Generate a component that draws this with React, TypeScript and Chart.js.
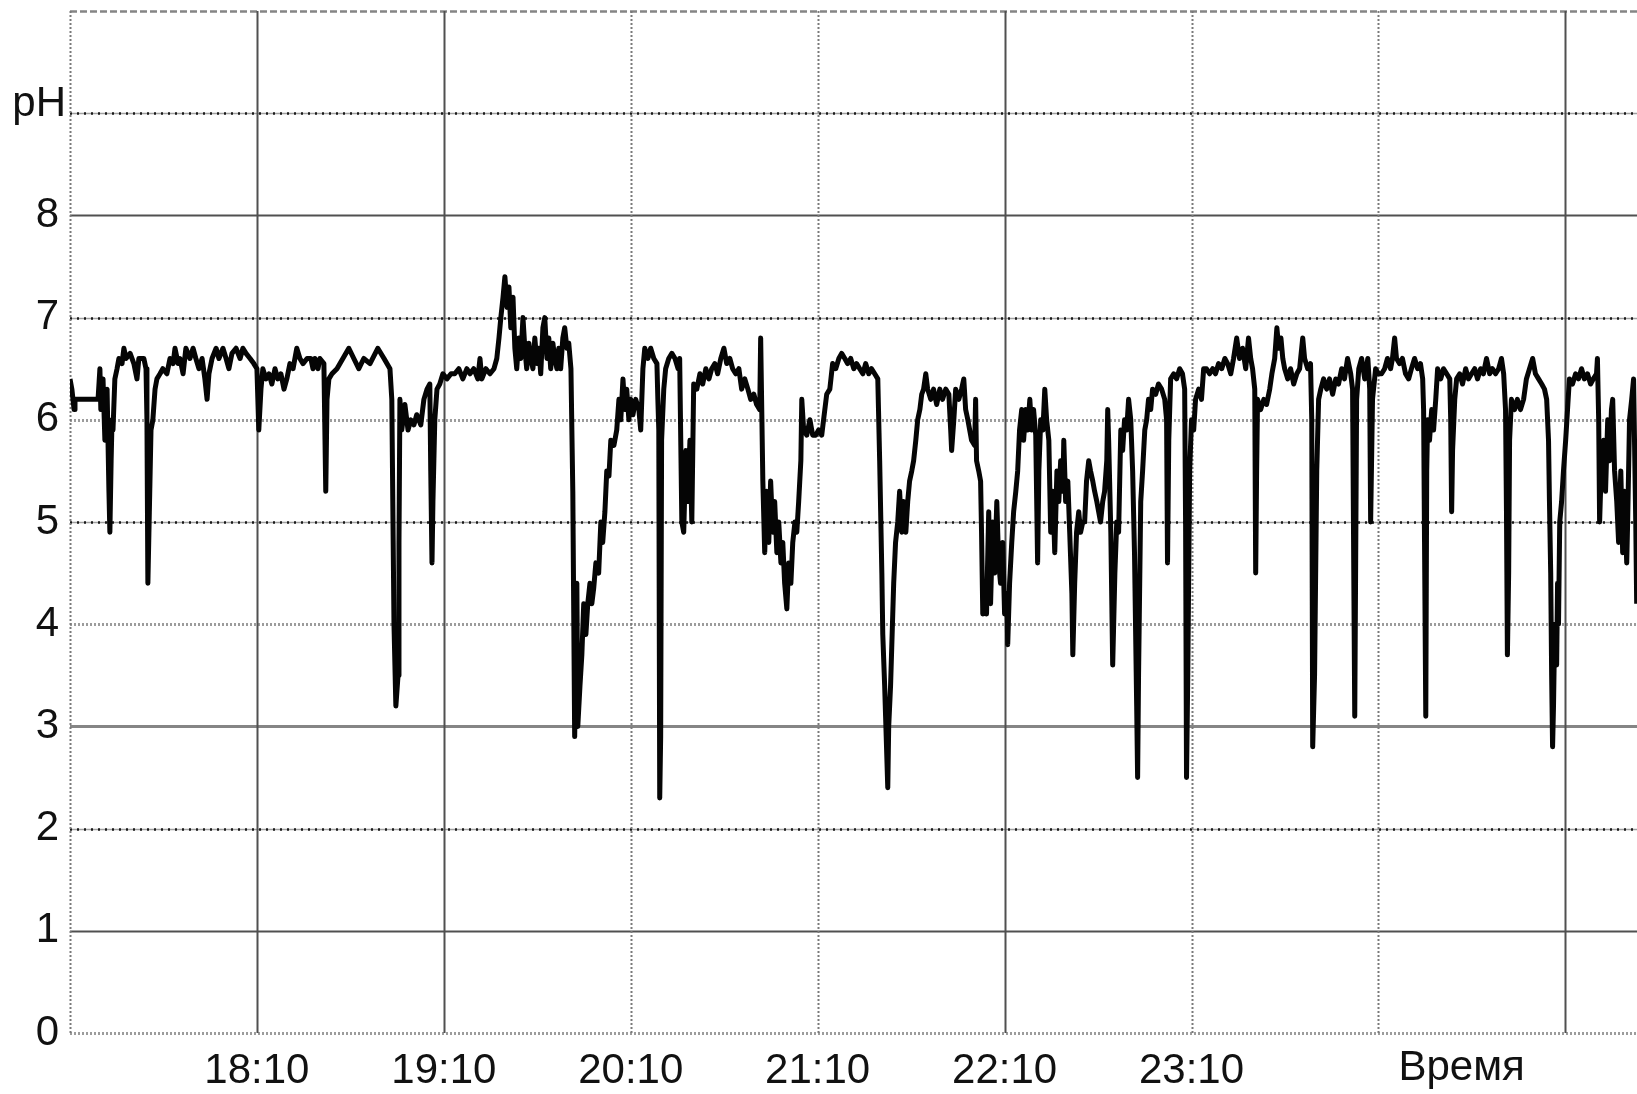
import React, { useEffect, useRef } from "react";
import { Chart, registerables } from "chart.js";

Chart.register(...registerables);

// pH readings: [minutes after 17:10, pH]
const hour17: [number, number][] = [
  [0.0, 6.4], [0.6, 6.3], [1.3, 6.1], [1.6, 6.2], [9.0, 6.2], [9.6, 6.5], [9.9, 6.1], [10.6, 6.4], [11.2, 5.8],
  [11.9, 6.3], [12.5, 5.3], [12.8, 4.9], [13.2, 5.6], [13.5, 6.0], [13.8, 5.9], [14.4, 6.4], [15.1, 6.5],
  [15.7, 6.6], [16.7, 6.55], [17.3, 6.7], [18.0, 6.6], [19.3, 6.65], [20.5, 6.55], [21.5, 6.4], [22.1, 6.6],
  [23.7, 6.6], [24.4, 6.5], [24.7, 6.0], [25.0, 4.4], [25.4, 5.0], [26.0, 5.9], [26.6, 6.0], [27.3, 6.3],
  [27.9, 6.4], [28.9, 6.45], [29.8, 6.5], [31.1, 6.45], [32.1, 6.6], [33.1, 6.55], [33.7, 6.7], [34.7, 6.55],
  [35.3, 6.6], [36.3, 6.45], [37.2, 6.7], [38.5, 6.6], [39.5, 6.7], [40.4, 6.6], [41.4, 6.5], [42.4, 6.6],
  [43.3, 6.4], [44.0, 6.2], [44.6, 6.45], [45.6, 6.6], [46.9, 6.7], [47.8, 6.6], [49.1, 6.7], [50.1, 6.6],
  [51.0, 6.5], [52.0, 6.65], [53.3, 6.7], [54.6, 6.6], [55.5, 6.7], [56.5, 6.65], [57.8, 6.6], [59.0, 6.55],
];

const hour18: [number, number][] = [
  [60.0, 6.5], [60.6, 5.9], [61.3, 6.3], [61.9, 6.5], [62.9, 6.4], [63.9, 6.45], [64.8, 6.35], [65.8, 6.5],
  [66.7, 6.4], [67.7, 6.45], [68.7, 6.3], [69.6, 6.4], [70.6, 6.55], [71.6, 6.5], [72.8, 6.7], [73.8, 6.6],
  [74.8, 6.55], [76.1, 6.6], [77.3, 6.6], [78.0, 6.5], [78.6, 6.6], [79.6, 6.5], [80.2, 6.6], [81.5, 6.55],
  [82.1, 5.3], [82.5, 6.2], [83.1, 6.4], [84.1, 6.45], [85.7, 6.5], [89.5, 6.7], [91.1, 6.6], [92.7, 6.5],
  [94.3, 6.6], [96.3, 6.55], [98.8, 6.7], [100.8, 6.6], [102.7, 6.5], [103.3, 6.2], [104.0, 4.0], [104.6, 3.2],
  [105.3, 3.5], [105.6, 4.8], [105.9, 6.2], [106.5, 5.9], [107.5, 6.15], [108.5, 5.9], [109.4, 6.0],
  [110.4, 5.95], [111.3, 6.05], [112.6, 5.95], [113.6, 6.2], [114.6, 6.3], [115.5, 6.35], [115.8, 5.5],
  [116.2, 4.6], [116.5, 5.2], [117.1, 6.0], [117.8, 6.3], [118.7, 6.35], [119.7, 6.45],
];

const hour19: [number, number][] = [
  [121.0, 6.4], [122.3, 6.45], [123.5, 6.45], [124.8, 6.5], [126.1, 6.4], [127.4, 6.5], [128.4, 6.45],
  [129.6, 6.5], [130.9, 6.4], [131.6, 6.6], [132.2, 6.4], [133.5, 6.5], [134.8, 6.45], [136.1, 6.5],
  [137.0, 6.6], [137.7, 6.8], [138.3, 7.0], [139.0, 7.2], [139.6, 7.4], [140.3, 7.1], [140.9, 7.3],
  [141.5, 6.9], [142.2, 7.2], [142.8, 6.7], [143.4, 6.5], [144.1, 6.8], [144.7, 6.6], [145.4, 7.0],
  [146.0, 6.7], [146.6, 6.5], [147.3, 6.75], [147.9, 6.6], [148.6, 6.5], [149.2, 6.8], [149.9, 6.55],
  [150.5, 6.7], [151.1, 6.45], [151.8, 6.9], [152.4, 7.0], [153.1, 6.6], [153.7, 6.8], [154.3, 6.5],
  [155.0, 6.75], [155.6, 6.6], [156.3, 6.5], [156.9, 6.7], [157.5, 6.5], [158.2, 6.8], [158.8, 6.9],
  [159.5, 6.7], [160.1, 6.75], [160.8, 6.5], [161.4, 5.3], [162.0, 2.9], [162.7, 4.4], [163.0, 3.0],
  [163.7, 3.4], [164.3, 3.7], [164.9, 4.2], [165.6, 3.9], [166.2, 4.2], [166.9, 4.4], [167.5, 4.2],
  [168.1, 4.35], [168.8, 4.6], [169.7, 4.5], [170.4, 5.0], [171.0, 4.8], [171.7, 5.1], [172.3, 5.5],
  [173.0, 5.45], [173.6, 5.8], [174.6, 5.75], [175.5, 5.9], [176.2, 6.2], [176.8, 6.0], [177.5, 6.4],
  [178.1, 6.1], [178.7, 6.3], [179.4, 6.0],
];

const hour20: [number, number][] = [
  [180.0, 6.2], [180.7, 6.05], [181.6, 6.2], [182.6, 6.1], [183.2, 5.9], [183.9, 6.5], [184.5, 6.7],
  [185.5, 6.6], [186.4, 6.7], [187.4, 6.6], [188.4, 6.55], [188.7, 6.2], [189.0, 5.9], [189.3, 2.3],
  [189.6, 2.9], [189.9, 5.8], [190.6, 6.3], [191.2, 6.5], [192.2, 6.6], [193.2, 6.65], [194.2, 6.6],
  [195.2, 6.5], [195.7, 6.6], [196.4, 5.0], [197.0, 4.9], [197.7, 5.7], [198.3, 5.2], [199.0, 5.8],
  [199.6, 5.0], [200.2, 6.35], [201.2, 6.3], [202.2, 6.45], [203.1, 6.35], [204.1, 6.5], [205.1, 6.4],
  [206.0, 6.5], [207.0, 6.55], [207.9, 6.45], [208.9, 6.6], [209.9, 6.7], [210.8, 6.55], [211.8, 6.6],
  [212.7, 6.5], [213.7, 6.45], [214.7, 6.5], [215.6, 6.3], [216.6, 6.4], [217.6, 6.3], [218.5, 6.2],
  [219.5, 6.25], [220.4, 6.15], [221.4, 6.1], [221.7, 6.8], [222.0, 6.2], [222.4, 5.4], [223.0, 4.7],
  [223.6, 5.3], [224.3, 4.8], [224.9, 5.4], [225.6, 4.9], [226.2, 5.2], [226.9, 4.7], [227.5, 5.0],
  [228.2, 4.6], [228.8, 4.8], [229.4, 4.4], [230.1, 4.15], [230.7, 4.6], [231.4, 4.4], [232.0, 4.8],
  [232.7, 5.0], [233.3, 4.9], [233.9, 5.2], [234.6, 5.6], [234.9, 6.2], [235.5, 5.9], [236.5, 5.85],
  [237.5, 6.0], [238.4, 5.85], [239.4, 5.85],
];

const hour21: [number, number][] = [
  [240.3, 5.9], [241.3, 5.85], [241.9, 6.0], [242.9, 6.25], [243.9, 6.3], [244.8, 6.55], [245.8, 6.5],
  [246.8, 6.6], [247.7, 6.65], [248.7, 6.6], [249.6, 6.55], [250.6, 6.6], [251.6, 6.5], [252.5, 6.55],
  [253.5, 6.5], [254.5, 6.45], [255.4, 6.55], [256.4, 6.45], [257.3, 6.5], [258.3, 6.45], [259.3, 6.4],
  [259.9, 5.6], [260.6, 4.5], [260.9, 3.9], [261.5, 3.4], [261.8, 3.1], [262.5, 2.4], [262.8, 3.0],
  [263.4, 3.4], [264.1, 4.1], [264.4, 4.4], [265.0, 4.8], [265.7, 5.0], [266.3, 5.3], [267.0, 4.9],
  [267.6, 5.2], [268.3, 4.9], [268.9, 5.2], [269.5, 5.4], [270.2, 5.5], [270.8, 5.6], [271.5, 5.8],
  [272.1, 6.0], [272.8, 6.1], [273.4, 6.25], [274.0, 6.3], [274.7, 6.45], [275.3, 6.3], [276.3, 6.2],
  [277.2, 6.3], [278.2, 6.15], [279.2, 6.3], [280.1, 6.2], [281.1, 6.3], [282.1, 6.25], [282.7, 5.9],
  [283.0, 5.7], [283.7, 6.0], [284.3, 6.3], [285.3, 6.2], [286.2, 6.3], [286.9, 6.4], [287.5, 6.1],
  [288.2, 6.0], [288.8, 5.9], [289.4, 5.8], [290.4, 5.75], [290.7, 6.2], [291.0, 5.6], [291.7, 5.5],
  [292.3, 5.4], [292.6, 4.9], [293.0, 4.1], [293.6, 4.4], [294.2, 4.1], [294.9, 5.1], [295.5, 4.2],
  [296.2, 5.0], [296.8, 4.5], [297.5, 5.2], [298.1, 4.6], [298.7, 4.4], [299.4, 4.8],
];

const hour22: [number, number][] = [
  [300.0, 4.1], [300.7, 4.3], [301.0, 3.8], [301.6, 4.4], [302.3, 4.8], [302.9, 5.1], [303.6, 5.3],
  [304.2, 5.5], [304.8, 5.9], [305.5, 6.1], [306.1, 5.8], [306.8, 6.1], [307.4, 5.9], [308.1, 6.2],
  [308.7, 5.9], [309.3, 6.1], [310.0, 5.85], [310.6, 4.6], [311.0, 5.5], [311.6, 6.0], [312.3, 5.9],
  [312.9, 6.3], [313.5, 6.0], [314.2, 5.8], [314.8, 4.9], [315.5, 5.3], [316.1, 4.7], [316.8, 5.5],
  [317.4, 5.2], [318.0, 5.6], [318.7, 5.3], [319.0, 5.8], [319.6, 5.2], [320.3, 5.4], [320.9, 4.9],
  [321.6, 4.3], [321.9, 3.7], [322.5, 4.4], [323.1, 4.9], [323.8, 5.1], [324.4, 4.9], [325.1, 5.0],
  [325.7, 5.0], [326.3, 5.4], [327.0, 5.6], [327.6, 5.5], [328.3, 5.4], [328.9, 5.3], [329.6, 5.2],
  [330.2, 5.1], [330.8, 5.0], [331.5, 5.2], [332.1, 5.3], [332.8, 5.6], [333.1, 6.1], [333.4, 5.8],
  [334.1, 4.9], [334.7, 3.6], [335.4, 4.5], [336.0, 5.0], [336.6, 4.9], [337.3, 5.9], [337.9, 5.7],
  [338.5, 6.0], [339.2, 5.9], [339.8, 6.2], [340.5, 6.0], [341.1, 5.5], [341.7, 4.7], [342.4, 3.2],
  [342.7, 2.5], [343.0, 3.5], [343.7, 5.2], [344.3, 5.5], [345.0, 5.9], [345.6, 6.0], [346.2, 6.2],
  [346.9, 6.1], [347.5, 6.3], [348.5, 6.25], [349.4, 6.35], [350.4, 6.3], [351.4, 6.2], [352.0, 6.0],
  [352.3, 4.6], [352.7, 5.8], [353.3, 6.4], [354.3, 6.45], [355.2, 6.4], [356.2, 6.5], [357.1, 6.45],
  [357.8, 6.3], [358.1, 5.0], [358.4, 2.5], [358.8, 3.5], [359.4, 5.5],
];

const hour23: [number, number][] = [
  [360.0, 6.0], [360.7, 5.9], [361.3, 6.2], [362.3, 6.3], [363.2, 6.2], [363.9, 6.5], [364.8, 6.5],
  [365.8, 6.45], [366.8, 6.5], [367.7, 6.45], [368.7, 6.55], [369.7, 6.5], [370.7, 6.6], [371.6, 6.55],
  [372.6, 6.45], [373.5, 6.6], [374.5, 6.8], [375.4, 6.6], [376.4, 6.7], [377.4, 6.5], [378.3, 6.8],
  [379.0, 6.6], [379.6, 6.5], [380.3, 6.3], [380.6, 4.5], [380.9, 5.5], [381.2, 6.2], [382.2, 6.1],
  [383.2, 6.2], [384.1, 6.15], [385.1, 6.3], [385.8, 6.45], [386.7, 6.6], [387.4, 6.9], [388.0, 6.7],
  [388.7, 6.8], [389.3, 6.6], [389.9, 6.5], [390.9, 6.4], [391.8, 6.5], [392.8, 6.35], [393.8, 6.45],
  [394.7, 6.5], [395.7, 6.8], [396.3, 6.6], [397.3, 6.5], [398.2, 6.55], [398.6, 6.0], [398.9, 2.8],
  [399.5, 3.5], [400.2, 5.5], [400.8, 6.2], [401.5, 6.3], [402.4, 6.4], [403.4, 6.3], [404.3, 6.4],
  [405.3, 6.25], [406.3, 6.4], [407.2, 6.35], [408.2, 6.5], [409.1, 6.4], [410.1, 6.6], [411.1, 6.45],
  [411.7, 6.3], [412.4, 3.1], [413.0, 6.2], [413.7, 6.5], [414.6, 6.6], [415.6, 6.4], [416.6, 6.6],
  [417.2, 6.3], [417.5, 5.0], [418.1, 6.2], [419.1, 6.5],
];

const hour00: [number, number][] = [
  [420.0, 6.45], [421.0, 6.45], [422.0, 6.5], [422.9, 6.6], [423.9, 6.5], [424.5, 6.6], [425.2, 6.8],
  [425.8, 6.6], [426.8, 6.55], [427.7, 6.6], [428.7, 6.45], [429.7, 6.4], [430.6, 6.5], [431.6, 6.6],
  [432.6, 6.5], [433.5, 6.55], [434.2, 6.4], [434.5, 6.1], [434.8, 4.8], [435.2, 3.1], [435.5, 5.5],
  [435.8, 6.0], [436.4, 5.8], [437.1, 6.1], [437.7, 5.9], [438.4, 6.2], [439.0, 6.5], [440.0, 6.4],
  [440.9, 6.5], [441.9, 6.45], [442.9, 6.4], [443.2, 6.0], [443.5, 5.1], [443.8, 5.7], [444.5, 6.2],
  [445.1, 6.4], [446.1, 6.45], [447.0, 6.35], [448.0, 6.5], [448.9, 6.4], [449.9, 6.45], [450.9, 6.5],
  [451.8, 6.4], [452.8, 6.5], [453.7, 6.45], [454.7, 6.6], [455.7, 6.45], [456.6, 6.5], [457.6, 6.45],
  [458.6, 6.5], [459.5, 6.6], [460.2, 6.45], [460.8, 6.1], [461.1, 5.1], [461.4, 3.7], [461.8, 4.5],
  [462.1, 5.8], [462.7, 6.2], [463.7, 6.1], [464.6, 6.2], [465.6, 6.1], [466.6, 6.2], [467.5, 6.4],
  [468.5, 6.5], [469.5, 6.6], [470.4, 6.45], [471.4, 6.4], [472.4, 6.35], [473.3, 6.3], [474.0, 6.2],
  [474.6, 5.8], [474.9, 5.2], [475.3, 4.5], [475.6, 3.5], [475.9, 2.8], [476.2, 3.2], [476.6, 4.0],
  [477.2, 3.6], [477.5, 4.4], [477.8, 4.0], [478.2, 5.0], [478.8, 5.2], [479.4, 5.5], [480.1, 5.8],
  [480.7, 6.1], [481.3, 6.4], [482.3, 6.35], [483.3, 6.45], [484.2, 6.4], [485.2, 6.5], [486.1, 6.4],
  [487.1, 6.45], [488.1, 6.35], [489.0, 6.4], [490.0, 6.45], [490.3, 6.6], [490.7, 6.0], [491.0, 5.0],
  [491.6, 5.6], [492.3, 5.8], [492.9, 5.3], [493.6, 6.0], [494.2, 5.6], [494.8, 6.1], [495.2, 6.2],
  [495.8, 5.5], [496.5, 5.2], [497.1, 4.8], [497.8, 5.5], [498.4, 4.7], [499.0, 5.3], [499.7, 4.6],
  [500.0, 5.0], [500.6, 6.0], [501.3, 6.2], [501.9, 6.4], [502.6, 5.0], [502.9, 4.2],
];

const readings = [...hour17, ...hour18, ...hour19, ...hour20, ...hour21, ...hour22, ...hour23, ...hour00];

// Axis definitions
const xMin = 0;
const xMax = 503;
const xTickValues = [60, 120, 180, 240, 300, 360];
const xTickTexts = ["18:10", "19:10", "20:10", "21:10", "22:10", "23:10"];
const xGridValues = [0, 60, 120, 180, 240, 300, 360, 420, 480];
const xGridKinds = ["vdotted", "solid", "solid", "vdotted", "vdotted", "solid", "vdotted", "vdotted", "solid"];
const yGridValues = [0, 1, 2, 3, 4, 5, 6, 7, 8, 9, 10];
const yGridKinds = ["wavy", "solid", "dotted", "solidLight", "wavy", "dotted", "wavy", "dotted", "solid", "dotted", "dashed"];
const yLabelMax = 8;
const yAxisName = "pH";
const xAxisName = "Время";
const xAxisNameAt = 446.7;

const FONT = "'Liberation Sans', Arial, sans-serif";

type Stroke = { color: string; width: number; dash: number[] };
const strokeStyles: Record<string, Stroke[]> = {
  solid: [{ color: "#505050", width: 2, dash: [] }],
  solidLight: [{ color: "#858585", width: 3, dash: [] }],
  dotted: [
    { color: "#a0a0a0", width: 1.5, dash: [] },
    { color: "#1a1a1a", width: 2.5, dash: [2, 5] },
  ],
  wavy: [{ color: "#9c9c9c", width: 3, dash: [2, 2] }],
  dashed: [{ color: "#858585", width: 2.5, dash: [7, 3] }],
  vdotted: [{ color: "#7a7a7a", width: 2, dash: [2, 2] }],
};

const gridPlugin = {
  id: "phGrid",
  beforeDraw(chart: any) {
    const { ctx, width, height } = chart;
    ctx.save();
    ctx.fillStyle = "#ffffff";
    ctx.fillRect(0, 0, width, height);
    ctx.restore();
  },
  beforeDatasetsDraw(chart: any) {
    const { ctx, chartArea } = chart;
    const xs = chart.scales.x;
    const ys = chart.scales.y;
    const stroke = (x1: number, y1: number, x2: number, y2: number, kind: string) => {
      for (const s of strokeStyles[kind]) {
        ctx.save();
        ctx.strokeStyle = s.color;
        ctx.lineWidth = s.width;
        ctx.setLineDash(s.dash);
        ctx.beginPath();
        ctx.moveTo(x1, y1);
        ctx.lineTo(x2, y2);
        ctx.stroke();
        ctx.restore();
      }
    };
    yGridValues.forEach((v, i) => {
      const y = Math.round(ys.getPixelForValue(v)) + 0.5;
      stroke(chartArea.left, y, chartArea.right, y, yGridKinds[i]);
    });
    xGridValues.forEach((v, i) => {
      const x = Math.round(xs.getPixelForValue(v)) + 0.5;
      stroke(x, chartArea.top, x, chartArea.bottom, xGridKinds[i]);
    });
  },
  afterDraw(chart: any) {
    const { ctx, chartArea } = chart;
    const xs = chart.scales.x;
    const ys = chart.scales.y;
    ctx.save();
    ctx.fillStyle = "#111111";
    ctx.font = `42px ${FONT}`;
    ctx.textAlign = "right";
    ctx.textBaseline = "alphabetic";
    ctx.fillText(yAxisName, chartArea.left - 4, ys.getPixelForValue(9) + 3);
    ctx.textAlign = "center";
    ctx.fillText(xAxisName, xs.getPixelForValue(xAxisNameAt), chartArea.bottom + 47);
    ctx.restore();
  },
};

export default function App() {
  const ref = useRef<HTMLCanvasElement | null>(null);

  useEffect(() => {
    if (!ref.current) return;
    const chart = new Chart(ref.current, {
      type: "line",
      data: {
        datasets: [
          {
            data: readings.map(([x, y]) => ({ x, y })),
            borderColor: "#050505",
            borderWidth: 5,
            pointRadius: 0,
            tension: 0,
            fill: false,
            borderJoinStyle: "round",
          },
        ],
      },
      options: {
        animation: false,
        responsive: false,
        devicePixelRatio: 1,
        layout: { padding: { top: 11, right: 0, bottom: 0, left: 0 } },
        plugins: { legend: { display: false }, tooltip: { enabled: false } },
        scales: {
          x: {
            type: "linear",
            min: xMin,
            max: xMax,
            grid: { display: false, drawTicks: false },
            border: { display: false },
            ticks: {
              stepSize: 60,
              autoSkip: false,
              maxRotation: 0,
              padding: 13,
              color: "#111111",
              font: { family: FONT, size: 42 },
              callback: (value: any) => {
                const i = xTickValues.indexOf(Number(value));
                return i >= 0 ? xTickTexts[i] : "";
              },
            },
            afterFit: (s: any) => {
              s.height = 61;
              s.paddingLeft = 0;
              s.paddingRight = 0;
            },
          },
          y: {
            min: 0,
            max: 10,
            grid: { display: false, drawTicks: false },
            border: { display: false },
            ticks: {
              stepSize: 1,
              padding: 11,
              color: "#111111",
              font: { family: FONT, size: 42 },
              callback: (value: any) => (Number(value) <= yLabelMax ? String(value) : ""),
            },
            afterFit: (s: any) => {
              s.width = 70;
              s.paddingTop = 0;
              s.paddingBottom = 0;
            },
          },
        },
      } as any,
      plugins: [gridPlugin],
    });
    return () => chart.destroy();
  }, []);

  return (
    <div style={{ position: "fixed", left: 0, top: 0, width: 1637, height: 1094, background: "#fff" }}>
      <canvas ref={ref} width={1637} height={1094} style={{ display: "block", width: 1637, height: 1094 }} />
    </div>
  );
}
